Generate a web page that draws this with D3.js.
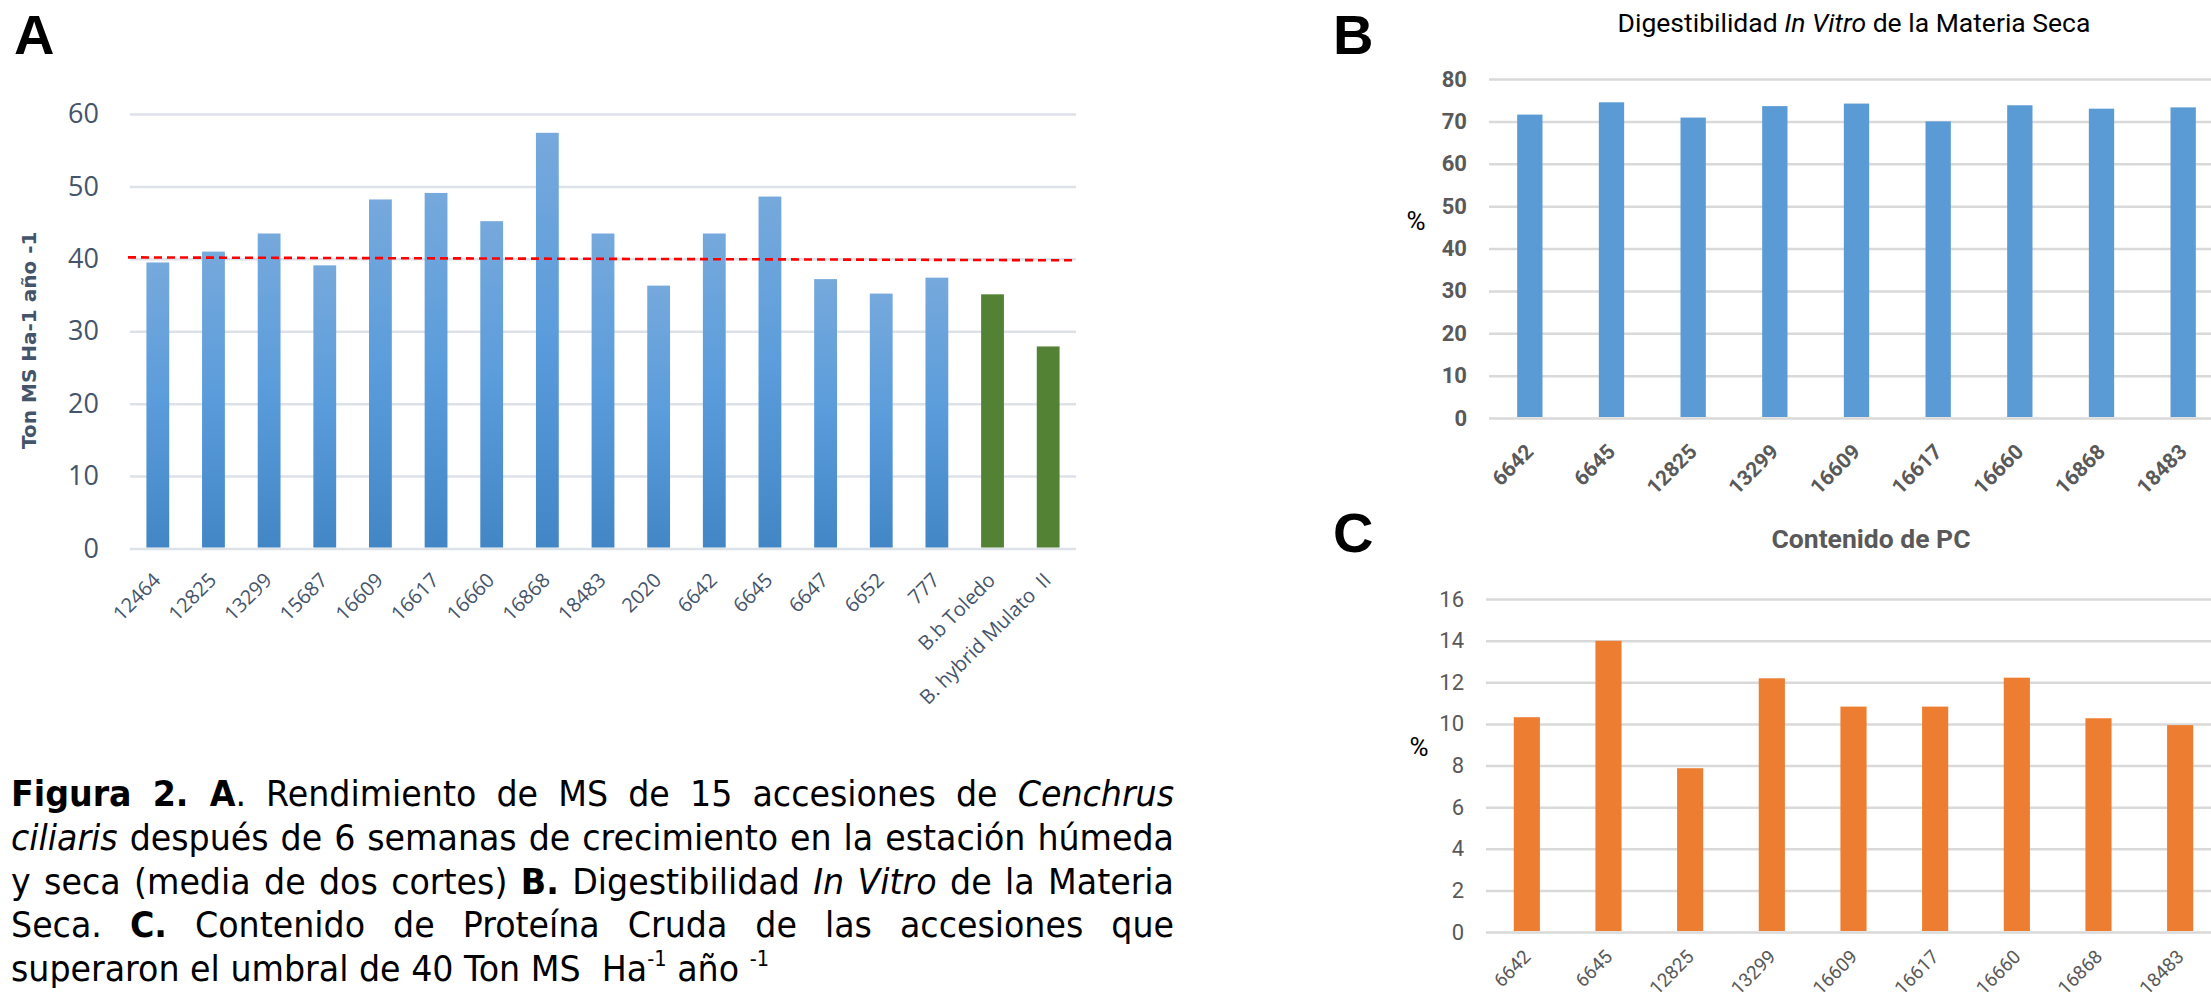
<!DOCTYPE html>
<html>
<head>
<meta charset="utf-8">
<script src="https://d3js.org/d3.v7.min.js"></script>
<style>
  body { margin: 0; background: #fff; }
  #wrap { position: relative; width: 2211px; height: 1003px; overflow: hidden; }
  #canvas { position: absolute; left: 0; top: 0; }
  #caption {
    position: absolute; left: 11px; top: 772px;
    font-family: 'DejaVu Sans', sans-serif; font-size: 36px; line-height: 43.75px;
    color: #000; transform-origin: 0 0;
  }
  #caption .just { text-align: justify; text-align-last: justify; }
  #caption .sup { font-size: 21px; position: relative; top: -15px; line-height: 0; }
</style>
</head>
<body>
<div id="wrap">
  <svg id="canvas" width="2211" height="1003"></svg>
  <div id="caption">
    <div class="just"><b>Figura 2. A</b>. Rendimiento de MS de 15 accesiones de <i>Cenchrus</i></div>
    <div class="just"><i>ciliaris</i> después de 6 semanas de crecimiento en la estación húmeda</div>
    <div class="just">y seca (media de dos cortes) <b>B.</b> Digestibilidad <i>In Vitro</i> de la Materia</div>
    <div class="just">Seca. <b>C.</b> Contenido de Proteína Cruda de las accesiones que</div>
    <div><span id="lastline">superaron el umbral de 40 Ton MS &nbsp;Ha<span class="sup">-1</span> año <span class="sup">-1</span></span></div>
  </div>
</div>
<script>
let accessionsA = ['12464', '12825', '13299', '15687', '16609', '16617', '16660', '16868', '18483',
  '2020', '6642', '6645', '6647', '6652', '777', 'B.b Toledo', 'B. hybrid Mulato  II']
let yieldA = [39.5, 41.0, 43.5, 39.1, 48.2, 49.1, 45.2, 57.4, 43.5, 36.3, 43.5, 48.6, 37.2, 35.2, 37.4, 35.1, 27.9]
let checksA = ['B.b Toledo', 'B. hybrid Mulato  II']
let ticksA = [0, 10, 20, 30, 40, 50, 60]
let thresholdA = [40.2, 39.8]

let accessionsBC = ['6642', '6645', '12825', '13299', '16609', '16617', '16660', '16868', '18483']
let digestB = [71.6, 74.5, 70.9, 73.6, 74.2, 70.0, 73.8, 73.0, 73.3]
let ticksB = [0, 10, 20, 30, 40, 50, 60, 70, 80]
let proteinC = [10.32, 13.99, 7.87, 12.19, 10.83, 10.83, 12.22, 10.27, 9.94]
let ticksC = [0, 2, 4, 6, 8, 10, 12, 14, 16]

let canvas = d3.select('#canvas')

let defs = canvas.append('defs')
let grad = defs.append('linearGradient')
  .attr('id', 'blueGrad')
  .attr('x1', 0).attr('y1', 0).attr('x2', 0).attr('y2', 1)
grad.append('stop').attr('offset', '0%').attr('stop-color', '#76a9dc')
grad.append('stop').attr('offset', '50%').attr('stop-color', '#5a9cdb')
grad.append('stop').attr('offset', '100%').attr('stop-color', '#4386c6')

let panelLetter = (txt, x, y) => {
  canvas.append('text')
    .attr('x', x).attr('y', y)
    .style('font-family', "'Liberation Sans', Arial, sans-serif")
    .style('font-weight', 'bold')
    .style('font-size', '56px')
    .attr('fill', '#000')
    .text(txt)
}

let drawGrid = (y, ticks, left, right, padding, font) => {
  let axis = d3.axisLeft(y)
    .tickValues(ticks)
    .tickSize(-(right - left))
    .tickPadding(padding)
  let g = canvas.append('g')
    .attr('transform', 'translate(' + left + ',0)')
    .call(axis)
  g.select('.domain').remove()
  g.selectAll('.tick line')
    .attr('stroke', font.grid)
    .attr('stroke-width', 2.5)
  g.selectAll('.tick text')
    .attr('fill', font.color)
    .style('font-family', font.family)
    .style('font-size', font.size)
    .style('font-weight', font.weight)
  return g
}

let drawXLabels = (x, y0, labels, dx, dy, font) => {
  canvas.append('g')
    .selectAll('text')
    .data(labels)
    .enter()
    .append('text')
    .attr('transform', (d) => 'translate(' + (x(d) + x.bandwidth() / 2 + dx) + ',' + (y0 + dy) + ') rotate(-45)')
    .attr('text-anchor', 'end')
    .attr('fill', font.color)
    .style('font-family', font.family)
    .style('font-size', font.size)
    .style('font-weight', font.weight)
    .style('white-space', 'pre')
    .text((d) => d)
}

// ---- A ----
let drawA = () => {
  let xA = d3.scaleBand().domain(accessionsA).range([130, 1076]).paddingInner(0.59).paddingOuter(0.295)
  let yA = d3.scaleLinear().domain([0, 60]).range([548.5, 114])
  let slate = '#44546a'

  drawGrid(yA, ticksA, 130, 1076, 31,
    { grid: '#dde1e8', color: slate, family: "'Open Sans', sans-serif", size: '27px', weight: 'normal' })

  canvas.append('g')
    .selectAll('rect')
    .data(accessionsA)
    .enter()
    .append('rect')
    .attr('x', (d) => xA(d))
    .attr('y', (d, i) => yA(yieldA[i]))
    .attr('width', xA.bandwidth())
    .attr('height', (d, i) => yA(0) - yA(yieldA[i]) - 1)
    .attr('fill', (d) => checksA.includes(d) ? '#548235' : 'url(#blueGrad)')

  let xr = xA.range()
  canvas.append('path')
    .datum(thresholdA)
    .attr('d', d3.line()
      .x((d, i) => i === 0 ? xr[0] - 2 : xr[1] - 4)
      .y((d) => yA(d)))
    .attr('fill', 'none')
    .attr('stroke', '#ff0000')
    .attr('stroke-width', 2.6)
    .attr('stroke-dasharray', '8,5')

  drawXLabels(xA, yA(0), accessionsA, 4, 33,
    { color: slate, family: "'Open Sans', sans-serif", size: '20px', weight: 'normal' })

  canvas.append('text')
    .attr('transform', 'translate(29,' + ((yA(0) + yA(60)) / 2 + 9) + ') rotate(-90)')
    .attr('text-anchor', 'middle')
    .attr('dy', '0.35em')
    .attr('fill', slate)
    .style('font-family', "'DejaVu Sans', sans-serif")
    .style('font-weight', 'bold')
    .style('font-size', '20px')
    .text('Ton MS Ha-1 año -1')

  panelLetter('A', 14, 54)
}

// ---- B ----
let drawB = () => {
  let xB = d3.scaleBand().domain(accessionsBC).range([1489, 2224]).paddingInner(0.69).paddingOuter(0.345)
  let yB = d3.scaleLinear().domain([0, 80]).range([418, 79])

  drawGrid(yB, ticksB, 1489, 2224, 22,
    { grid: '#d9d9d9', color: '#595959', family: 'Roboto, sans-serif', size: '22px', weight: 'bold' })

  canvas.append('g')
    .selectAll('rect')
    .data(accessionsBC)
    .enter()
    .append('rect')
    .attr('x', (d) => xB(d))
    .attr('y', (d, i) => yB(digestB[i]))
    .attr('width', xB.bandwidth())
    .attr('height', (d, i) => yB(0) - yB(digestB[i]) - 1)
    .attr('fill', '#5b9bd5')

  drawXLabels(xB, yB(0), accessionsBC, 5, 35,
    { color: '#595959', family: 'Roboto, sans-serif', size: '21px', weight: 'bold' })

  let title = canvas.append('text')
    .attr('x', 1854).attr('y', 32)
    .attr('text-anchor', 'middle')
    .attr('fill', '#000')
    .style('font-family', 'Roboto, sans-serif')
    .style('font-size', '26.5px')
  title.append('tspan').text('Digestibilidad ')
  title.append('tspan').style('font-style', 'italic').text('In Vitro')
  title.append('tspan').text(' de la Materia Seca')

  canvas.append('text')
    .attr('x', 1416).attr('y', 230)
    .attr('text-anchor', 'middle')
    .attr('fill', '#000')
    .style('font-family', 'Roboto, sans-serif')
    .style('font-size', '26px')
    .text('%')

  panelLetter('B', 1333, 54)
}

// ---- C ----
let drawC = () => {
  let xC = d3.scaleBand().domain(accessionsBC).range([1486, 2221]).paddingInner(0.68).paddingOuter(0.34)
  let yC = d3.scaleLinear().domain([0, 16]).range([932, 599])

  drawGrid(yC, ticksC, 1486, 2221, 22,
    { grid: '#d9d9d9', color: '#595959', family: 'Roboto, sans-serif', size: '22px', weight: 'normal' })

  canvas.append('g')
    .selectAll('rect')
    .data(accessionsBC)
    .enter()
    .append('rect')
    .attr('x', (d) => xC(d))
    .attr('y', (d, i) => yC(proteinC[i]))
    .attr('width', xC.bandwidth())
    .attr('height', (d, i) => yC(0) - yC(proteinC[i]) - 1)
    .attr('fill', '#ed7d31')

  drawXLabels(xC, yC(0), accessionsBC, 5, 26,
    { color: '#595959', family: 'Roboto, sans-serif', size: '19px', weight: 'normal' })

  canvas.append('text')
    .attr('x', 1871).attr('y', 548)
    .attr('text-anchor', 'middle')
    .attr('fill', '#595959')
    .style('font-family', 'Roboto, sans-serif')
    .style('font-weight', 'bold')
    .style('font-size', '26.5px')
    .text('Contenido de PC')

  canvas.append('text')
    .attr('x', 1419).attr('y', 756)
    .attr('text-anchor', 'middle')
    .attr('fill', '#000')
    .style('font-family', 'Roboto, sans-serif')
    .style('font-size', '26px')
    .text('%')

  panelLetter('C', 1333, 552)
}

drawA()
drawB()
drawC()

// squeeze caption to the width used in the figure
let natural = document.getElementById('lastline').getBoundingClientRect().width
let s = 758 / natural
let cap = document.getElementById('caption')
cap.style.width = (1163 / s) + 'px'
cap.style.transform = 'scaleX(' + s + ')'
</script>
</body>
</html>
